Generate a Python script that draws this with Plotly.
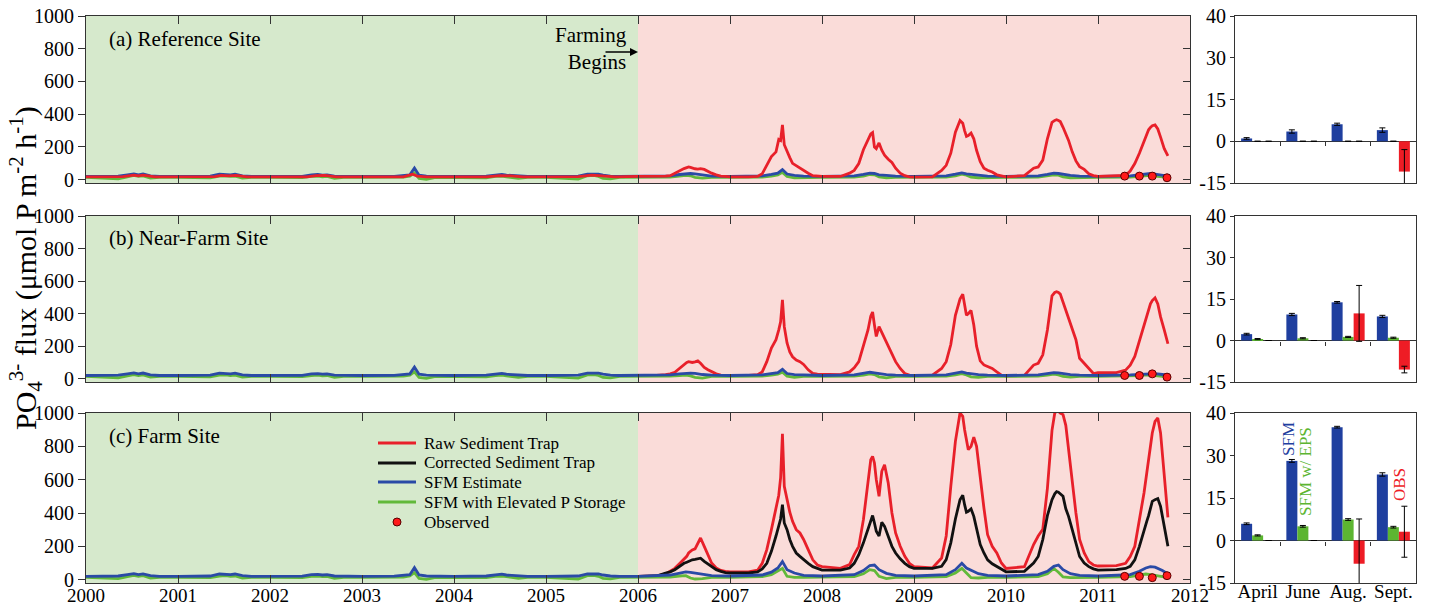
import plotly.graph_objects as go

# ---------------- data ----------------
year_ticks = [2000, 2001, 2002, 2003, 2004, 2005, 2006, 2007, 2008, 2009, 2010, 2011, 2012]

# SFM model knots (decimal years)
t_sfm = [
    2000.00, 2000.35, 2000.45, 2000.52, 2000.57, 2000.62, 2000.70, 2000.80,
    2001.00, 2001.35, 2001.45, 2001.52, 2001.57, 2001.62, 2001.70, 2001.80,
    2002.00, 2002.35, 2002.45, 2002.52, 2002.57, 2002.62, 2002.70, 2002.80,
    2003.00, 2003.35, 2003.45, 2003.52, 2003.57, 2003.62, 2003.70, 2003.80,
    2004.00, 2004.35, 2004.45, 2004.52, 2004.57, 2004.62, 2004.70, 2004.80,
    2005.00, 2005.35, 2005.45, 2005.52, 2005.57, 2005.62, 2005.70, 2005.80,
    2006.00, 2006.35, 2006.45, 2006.52, 2006.57, 2006.62, 2006.70, 2006.80,
    2007.00, 2007.35, 2007.45, 2007.52, 2007.57, 2007.62, 2007.70, 2007.80,
    2008.00, 2008.35, 2008.45, 2008.52, 2008.57, 2008.62, 2008.70, 2008.80,
    2009.00, 2009.35, 2009.45, 2009.52, 2009.57, 2009.62, 2009.70, 2009.80,
    2010.00, 2010.35, 2010.45, 2010.52, 2010.57, 2010.62, 2010.70, 2010.80,
    2011.00, 2011.35, 2011.45, 2011.52, 2011.57, 2011.62, 2011.70, 2011.76,
]

blue_pre = [
    20, 22, 30, 36, 30, 35, 24, 20,
    20, 22, 34, 33, 30, 34, 24, 20,
    20, 21, 30, 32, 28, 30, 22, 20,
    20, 21, 24, 30, 72, 28, 22, 20,
    20, 22, 30, 33, 28, 27, 21, 20,
    20, 22, 34, 36, 34, 28, 22, 20,
]
green_pre = [
    14, 6, 18, 26, 20, 24, 10, 14,
    14, 12, 22, 24, 20, 22, 10, 14,
    14, 13, 20, 22, 18, 20, 8, 14,
    14, 14, 16, 22, 42, 8, 2, 14,
    14, 12, 20, 22, 18, 14, 8, 14,
    14, 4, 24, 26, 20, 8, 5, 14,
]

blue_a_post = [
    20, 24, 32, 36, 38, 36, 28, 22,
    20, 24, 32, 40, 62, 35, 26, 22,
    20, 24, 32, 40, 38, 30, 26, 22,
    20, 24, 34, 42, 36, 32, 26, 22,
    20, 24, 32, 40, 38, 32, 26, 22,
    20, 24, 30, 36, 38, 34, 28, 22,
]
green_a_post = [
    14, 16, 22, 26, 24, 14, 10, 14,
    14, 16, 22, 30, 45, 20, 12, 14,
    14, 16, 22, 32, 30, 18, 12, 14,
    14, 16, 24, 34, 28, 16, 12, 14,
    14, 16, 22, 30, 28, 18, 12, 14,
    14, 16, 20, 24, 26, 22, 16, 14,
]
blue_b_post = [
    20, 24, 30, 34, 35, 33, 26, 22,
    20, 24, 30, 38, 58, 32, 25, 22,
    20, 24, 32, 40, 36, 30, 25, 22,
    20, 24, 34, 42, 34, 30, 25, 22,
    20, 24, 32, 38, 36, 30, 25, 22,
    20, 24, 28, 32, 34, 32, 26, 22,
]
green_b_post = [
    14, 16, 20, 22, 18, 8, 4, 14,
    14, 16, 22, 28, 40, 16, 8, 14,
    14, 16, 22, 30, 26, 12, 6, 14,
    14, 16, 24, 32, 24, 12, 8, 14,
    14, 16, 22, 28, 24, 14, 10, 14,
    14, 16, 20, 24, 24, 20, 14, 14,
]
blue_c_post = [
    20, 28, 40, 47, 44, 40, 32, 24,
    22, 28, 45, 70, 108, 60, 40, 26,
    22, 30, 55, 85, 88, 60, 38, 26,
    22, 30, 60, 98, 70, 57, 36, 26,
    22, 30, 50, 80, 88, 60, 36, 26,
    22, 30, 50, 70, 78, 75, 55, 35,
]
green_c_post = [
    14, 16, 22, 24, 10, 4, 6, 14,
    14, 18, 30, 50, 68, 20, 14, 14,
    14, 18, 35, 60, 55, 20, 6, 14,
    14, 18, 40, 68, 40, 12, 10, 14,
    14, 18, 35, 67, 45, 16, 12, 14,
    14, 18, 26, 34, 30, 24, 18, 14,
]

# sediment trap knots (decimal years, farming period)
t_trap = [
    2006.00, 2006.20, 2006.30, 2006.35, 2006.40, 2006.45, 2006.50, 2006.53, 2006.55, 2006.57,
    2006.59, 2006.62, 2006.65, 2006.68, 2006.72, 2006.76, 2006.80, 2006.85, 2006.90, 2006.95,
    2007.00, 2007.20, 2007.30, 2007.35, 2007.40, 2007.45, 2007.50, 2007.53, 2007.55, 2007.57,
    2007.59, 2007.62, 2007.65, 2007.68, 2007.72, 2007.76, 2007.80, 2007.85, 2007.90, 2007.95,
    2008.00, 2008.20, 2008.30, 2008.35, 2008.40, 2008.45, 2008.50, 2008.53, 2008.55, 2008.57,
    2008.59, 2008.62, 2008.65, 2008.68, 2008.72, 2008.76, 2008.80, 2008.85, 2008.90, 2008.95,
    2009.00, 2009.20, 2009.30, 2009.35, 2009.40, 2009.45, 2009.50, 2009.53, 2009.55, 2009.57,
    2009.59, 2009.62, 2009.65, 2009.68, 2009.72, 2009.76, 2009.80, 2009.85, 2009.90, 2009.95,
    2010.00, 2010.20, 2010.30, 2010.35, 2010.40, 2010.45, 2010.50, 2010.53, 2010.55, 2010.57,
    2010.59, 2010.62, 2010.65, 2010.68, 2010.72, 2010.76, 2010.80, 2010.85, 2010.90, 2010.95,
    2011.00, 2011.20, 2011.30, 2011.35, 2011.40, 2011.45, 2011.50, 2011.53, 2011.55, 2011.57,
    2011.59, 2011.62, 2011.65, 2011.68, 2011.72, 2011.76,
]

red_a_pre_t = [2000.00, 2000.40, 2000.52, 2000.57, 2000.62, 2000.75, 2001.40, 2001.47, 2001.55,
               2001.63, 2001.75, 2002.40, 2002.50, 2002.60, 2002.72, 2003.45, 2003.55, 2003.60,
               2003.70, 2004.35, 2004.50, 2004.62, 2004.75, 2005.35, 2005.50, 2005.60, 2005.75]
red_a_pre_v = [18, 19, 28, 24, 28, 18, 19, 27, 24,
               27, 18, 18, 25, 26, 18, 18, 34, 22,
               18, 18, 25, 24, 18, 19, 28, 25, 18]

red_a = [
    20, 20, 22, 25, 40, 57, 68, 74, 78, 75, 70, 67, 65, 68, 63, 50, 40, 30, 22, 20,
    18, 18, 20, 36, 88, 141, 170, 246, 240, 335, 214, 170, 135, 100, 85, 70, 57, 40, 25, 21,
    20, 20, 40, 57, 99, 183, 240, 280, 288, 200, 190, 225, 180, 150, 125, 105, 70, 40, 25, 18,
    16, 18, 57, 88, 162, 290, 362, 345, 300, 265, 270, 285, 250, 180, 110, 70, 58, 47, 30, 22,
    18, 25, 70, 78, 120, 250, 350, 362, 366, 362, 355, 320, 285, 240, 170, 115, 80, 63, 36, 25,
    21, 22, 27, 53, 99, 162, 240, 280, 305, 320, 330, 335, 310, 260, 190, 145,
]
red_b = [
    20, 20, 25, 30, 40, 63, 88, 100, 105, 102, 100, 104, 110, 95, 70, 55, 42, 30, 22, 20,
    20, 20, 25, 42, 105, 189, 240, 300, 350, 485, 320, 220, 165, 135, 115, 105, 88, 55, 33, 28,
    27, 25, 42, 67, 105, 210, 300, 385, 410, 330, 260, 320, 285, 245, 200, 160, 105, 63, 32, 22,
    20, 22, 63, 105, 210, 390, 490, 520, 460, 390, 400, 420, 330, 200, 110, 85, 75, 63, 42, 22,
    17, 20, 84, 95, 147, 300, 510, 530, 535, 530, 520, 470, 420, 370, 300, 240, 126, 95, 63, 32,
    38, 38, 53, 84, 137, 232, 330, 390, 430, 460, 480, 497, 460, 380, 300, 215,
]
red_c = [
    20, 22, 35, 50, 68, 95, 120, 140, 160, 170, 178, 185, 215, 250, 200, 150, 100, 70, 55, 50,
    47, 47, 57, 98, 180, 300, 425, 507, 610, 875, 560, 480, 405, 350, 300, 280, 241, 180, 119, 88,
    78, 68, 90, 150, 200, 360, 570, 720, 740, 700, 600, 500, 650, 690, 580, 400, 280, 200, 140, 98,
    78, 70, 130, 262, 560, 830, 1000, 980, 900, 850, 780, 800, 855, 800, 600, 430, 270, 200, 160, 100,
    67, 78, 211, 262, 303, 548, 896, 1000, 1010, 1010, 1000, 990, 926, 780, 600, 400, 241, 160, 108, 88,
    82, 84, 98, 139, 200, 350, 520, 640, 720, 800, 880, 950, 970, 880, 650, 374,
]
black_c = [
    20, 22, 40, 47, 60, 80, 98, 105, 110, 115, 119, 122, 125, 129, 110, 95, 80, 60, 50, 42,
    40, 40, 47, 65, 98, 170, 262, 330, 364, 450, 340, 300, 241, 200, 160, 140, 119, 98, 78, 65,
    57, 57, 70, 98, 150, 221, 300, 360, 385, 340, 290, 262, 344, 320, 260, 200, 160, 125, 98, 78,
    68, 68, 80, 120, 221, 364, 480, 507, 450, 405, 410, 425, 380, 303, 210, 160, 119, 95, 78, 60,
    47, 50, 100, 139, 241, 384, 480, 515, 528, 525, 517, 500, 425, 380, 300, 221, 139, 100, 78, 65,
    57, 60, 67, 80, 119, 200, 303, 350, 384, 430, 470, 480, 487, 440, 330, 200,
]

obs_t = [2011.29, 2011.45, 2011.59, 2011.75]
obs_a = [22, 22, 22, 12]
obs_b = [20, 20, 30, 10]
obs_c = [20, 20, 12, 24]

months = ["April", "June", "Aug.", "Sept."]
sfm_a = [1.0, 3.5, 6.1, 4.0]
sfm_a_err = [0.3, 0.6, 0.4, 0.8]
eps_a = [0.0, 0.0, 0.0, 0.0]
eps_a_err = [0.0, 0.0, 0.0, 0.0]
obsbar_a = [0.0, 0.0, 0.0, -10.9]
obsbar_a_err = [0.0, 0.0, 0.0, 7.9]

sfm_b = [2.3, 9.4, 13.8, 8.7]
sfm_b_err = [0.3, 0.4, 0.3, 0.4]
eps_b = [0.5, 0.8, 1.3, 1.0]
eps_b_err = [0.2, 0.2, 0.2, 0.2]
obsbar_b = [0.0, 0.0, 9.8, -10.5]
obsbar_b_err = [0.0, 0.0, 10.1, 1.2]

sfm_c = [5.9, 28.1, 40.0, 23.3]
sfm_c_err = [0.3, 0.5, 0.3, 0.6]
eps_c = [1.8, 5.0, 7.4, 4.7]
eps_c_err = [0.2, 0.3, 0.3, 0.3]
obsbar_c = [0.0, 0.0, -8.2, 3.1]
obsbar_c_err = [0.0, 0.0, 15.8, 9.0]

bar_ticks = [-15, 0, 15, 30, 45]
bar_ticktext = ["-15", "0", "15", "30", "40"]
flux_ticks = [0, 200, 400, 600, 800, 1000]

panel_titles = ["(a) Reference Site", "(b) Near-Farm Site", "(c) Farm Site"]
legend_names = ["Raw Sediment Trap", "Corrected Sediment Trap", "SFM Estimate",
                "SFM with Elevated P Storage", "Observed"]

# ---------------- styling ----------------
W, H = 1430, 607
FONT = "Liberation Serif, Times New Roman, serif"
RED = "#e8202a"
BLUE = "#2a4aa6"
GREEN = "#62b93a"
BLACK = "#111111"
BAR_BLUE = "#1f3f9f"
BAR_GREEN = "#5cb531"
BAR_RED = "#ee1c25"
BG_GREEN = "#d6e9cc"
BG_PINK = "#fadcd9"
AX = "#333333"
DOT = "#ff1a1a"
DOT_EDGE = "#5a0000"

rows_px = [(16, 183), (216, 382), (413, 583)]
left_dom = [86 / W, 1190 / W]
right_dom = [1235 / W, 1416 / W]

fig = go.Figure()

sub = [("x", "y", "x2", "y2"), ("x3", "y3", "x4", "y4"), ("x5", "y5", "x6", "y6")]

blue_posts = [blue_a_post, blue_b_post, blue_c_post]
green_posts = [green_a_post, green_b_post, green_c_post]
obs_pts = [obs_a, obs_b, obs_c]
reds = [red_a, red_b, red_c]

line_w = 2.8


def line(x, y, color, xa, ya, name, width=line_w):
    return go.Scatter(x=x, y=y, mode="lines", line=dict(color=color, width=width),
                      xaxis=xa, yaxis=ya, name=name, showlegend=False, hoverinfo="skip")


for i in range(3):
    xa, ya, xb, yb = sub[i]
    blue_full = blue_pre + blue_posts[i]
    green_full = green_pre + green_posts[i]
    if i == 0:
        fig.add_trace(line(t_sfm, green_full, GREEN, xa, ya, legend_names[3]))
        fig.add_trace(line(t_sfm, blue_full, BLUE, xa, ya, legend_names[2]))
        fig.add_trace(line(red_a_pre_t + t_trap, red_a_pre_v + red_a, RED, xa, ya, legend_names[0]))
    else:
        fig.add_trace(line(t_trap, reds[i], RED, xa, ya, legend_names[0]))
        if i == 2:
            fig.add_trace(line(t_trap, black_c, BLACK, xa, ya, legend_names[1]))
        fig.add_trace(line(t_sfm, green_full, GREEN, xa, ya, legend_names[3]))
        fig.add_trace(line(t_sfm, blue_full, BLUE, xa, ya, legend_names[2]))
    fig.add_trace(go.Scatter(x=obs_t, y=obs_pts[i], mode="markers",
                             marker=dict(color=DOT, size=8, line=dict(color=DOT_EDGE, width=1)),
                             xaxis=xa, yaxis=ya, name=legend_names[4], showlegend=False,
                             hoverinfo="skip", cliponaxis=False))

bar_sets = [
    (sfm_a, sfm_a_err, eps_a, eps_a_err, obsbar_a, obsbar_a_err),
    (sfm_b, sfm_b_err, eps_b, eps_b_err, obsbar_b, obsbar_b_err),
    (sfm_c, sfm_c_err, eps_c, eps_c_err, obsbar_c, obsbar_c_err),
]
for i in range(3):
    xa, ya, xb, yb = sub[i]
    vals = bar_sets[i]
    for (v, e, c) in [(vals[0], vals[1], BAR_BLUE), (vals[2], vals[3], BAR_GREEN), (vals[4], vals[5], BAR_RED)]:
        fig.add_trace(go.Bar(x=months, y=v, marker=dict(color=c, line=dict(width=0)),
                             error_y=dict(type="data", array=e, color="black", thickness=1, width=3),
                             xaxis=xb, yaxis=yb, showlegend=False, hoverinfo="skip"))

# helper traces for overlay axes
for (xo, yo) in [("x", "y7"), ("x3", "y8"), ("x5", "y9"), ("x7", "y2"), ("x8", "y4"), ("x9", "y6")]:
    fig.add_trace(go.Scatter(x=[None], y=[None], xaxis=xo, yaxis=yo, showlegend=False,
                             hoverinfo="skip", mode="lines"))

layout = dict(
    width=W, height=H,
    margin=dict(l=0, r=0, t=0, b=0, autoexpand=False),
    paper_bgcolor="white", plot_bgcolor="white",
    font=dict(family=FONT, size=20, color="black"),
    barmode="group", bargap=0.27, bargroupgap=0.0,
    showlegend=False,
)

shapes = []
annotations = []
for i in range(3):
    top, bot = rows_px[i]
    dom = [1 - bot / H, 1 - top / H]
    xn = "xaxis" if i == 0 else "xaxis%d" % (2 * i + 1)
    yn = "yaxis" if i == 0 else "yaxis%d" % (2 * i + 1)
    xrn = "xaxis%d" % (2 * i + 2)
    yrn = "yaxis%d" % (2 * i + 2)
    xref = "x" if i == 0 else "x%d" % (2 * i + 1)
    yref = "y" if i == 0 else "y%d" % (2 * i + 1)
    layout[xn] = dict(domain=left_dom, anchor=yref, range=[2000, 2012], automargin=False,
                      tickvals=year_ticks, ticktext=[str(y) for y in year_ticks],
                      showticklabels=(i == 2), ticks="inside", ticklen=8, tickcolor=AX,
                      mirror="ticks", showline=True, linecolor=AX, linewidth=1,
                      ticklabelstandoff=-5,
                      showgrid=False, zeroline=False, tickfont=dict(size=19))
    layout[yn] = dict(domain=dom, anchor=xref, range=[-20, 1000], tickvals=flux_ticks,
                      automargin=False,
                      ticks="outside", ticklen=7, tickcolor=AX, showline=True, linecolor=AX,
                      linewidth=1, mirror=True, showgrid=False, zeroline=False,
                      tickfont=dict(size=20))
    # right-side inside ticks
    layout["yaxis%d" % (7 + i)] = dict(overlaying=yref, side="right", anchor=xref,
                                       range=[-20, 1000], tickvals=flux_ticks, automargin=False,
                                       ticks="inside", ticklen=7, tickcolor=AX,
                                       showticklabels=False, showline=False,
                                       showgrid=False, zeroline=False)
    xr_ref = "x%d" % (2 * i + 2)
    yr_ref = "y%d" % (2 * i + 2)
    layout[xrn] = dict(domain=right_dom, anchor=yr_ref, type="category", automargin=False,
                       categoryorder="array", categoryarray=months,
                       range=[-0.5, 3.5], showticklabels=(i == 2), ticks="",
                       ticklabelstandoff=-9,
                       showline=True, linecolor=AX, linewidth=1, mirror=True,
                       showgrid=False, zeroline=False, tickfont=dict(size=19))
    layout[yrn] = dict(domain=dom, anchor=xr_ref, range=[-15, 45], tickvals=bar_ticks,
                       ticktext=bar_ticktext, ticks="outside", ticklen=4, tickcolor=AX,
                       automargin=False,
                       showline=True, linecolor=AX, linewidth=1, mirror=True,
                       showgrid=False, zeroline=True, zerolinecolor=AX, zerolinewidth=1,
                       tickfont=dict(size=20))
    zero_pos = dom[0] + (15 / 60) * (dom[1] - dom[0])
    layout["xaxis%d" % (7 + i)] = dict(overlaying=xr_ref, anchor="free", position=zero_pos,
                                       range=[-0.5, 3.5], tickvals=[0.5, 1.5, 2.5],
                                       automargin=False,
                                       ticks="outside", ticklen=4, tickcolor=AX,
                                       showticklabels=False, showline=False,
                                       showgrid=False, zeroline=False)
    shapes.append(dict(type="rect", xref=xref, yref=yref + " domain", x0=2000, x1=2006,
                       y0=0, y1=1, fillcolor=BG_GREEN, line=dict(width=0), layer="below"))
    shapes.append(dict(type="rect", xref=xref, yref=yref + " domain", x0=2006, x1=2012,
                       y0=0, y1=1, fillcolor=BG_PINK, line=dict(width=0), layer="below"))
    cy = [39, 238, 436][i]
    annotations.append(dict(text=panel_titles[i], x=107 / W, y=1 - cy / H, xref="paper",
                            yref="paper", xanchor="left", yanchor="middle", showarrow=False,
                            font=dict(size=21, family=FONT)))

# legend (inside the farm-site panel)
leg_colors = [RED, BLACK, BLUE, GREEN]
leg_rows = [443, 463, 482, 502, 522]
for k in range(4):
    yy = 1 - leg_rows[k] / H
    shapes.append(dict(type="line", xref="paper", yref="paper", x0=378 / W, x1=416 / W,
                       y0=yy, y1=yy, line=dict(color=leg_colors[k], width=3)))
shapes.append(dict(type="circle", xref="paper", yref="paper", x0=393 / W, x1=401 / W,
                   y0=1 - (leg_rows[4] + 4) / H, y1=1 - (leg_rows[4] - 4) / H,
                   fillcolor=DOT, line=dict(color=DOT_EDGE, width=1)))
for k in range(5):
    annotations.append(dict(text=legend_names[k], x=422 / W, y=1 - leg_rows[k] / H,
                            xref="paper", yref="paper", xanchor="left", yanchor="middle",
                            showarrow=False, font=dict(size=17, family=FONT)))

annotations.append(dict(text="Farming<br>Begins", x=629 / W, y=1 - 49 / H, xref="paper",
                        yref="paper", xanchor="right", yanchor="middle", align="right",
                        showarrow=False, font=dict(size=21, family=FONT)))
annotations.append(dict(text="", x=638 / W, y=1 - 52 / H, xref="paper", yref="paper",
                        ax=-34, ay=0, showarrow=True, arrowhead=2, arrowsize=1,
                        arrowwidth=1.6, arrowcolor="black"))
annotations.append(dict(text="PO<sub>4</sub><sup>3-</sup> flux (\u03bcmol P m<sup>-2</sup> h<sup>-1</sup>)",
                        x=25 / W, y=1 - 268 / H, xref="paper", yref="paper",
                        textangle=-90, showarrow=False, xanchor="center", yanchor="middle",
                        font=dict(size=30, family=FONT)))
annotations.append(dict(text="SFM", x=1288 / W, y=1 - 439 / H, xref="paper", yref="paper",
                        xanchor="center", yanchor="middle",
                        textangle=-90, showarrow=False, font=dict(size=17, color=BAR_BLUE, family=FONT)))
annotations.append(dict(text="SFM w/ EPS", x=1305 / W, y=1 - 472 / H, xref="paper", yref="paper",
                        xanchor="center", yanchor="middle",
                        textangle=-90, showarrow=False, font=dict(size=17, color=BAR_GREEN, family=FONT)))
annotations.append(dict(text="OBS", x=1399 / W, y=1 - 485 / H, xref="paper", yref="paper",
                        xanchor="center", yanchor="middle",
                        textangle=-90, showarrow=False, font=dict(size=17, color=BAR_RED, family=FONT)))

layout["shapes"] = shapes
layout["annotations"] = annotations
fig.update_layout(**layout)

fig.write_html("out.html")
